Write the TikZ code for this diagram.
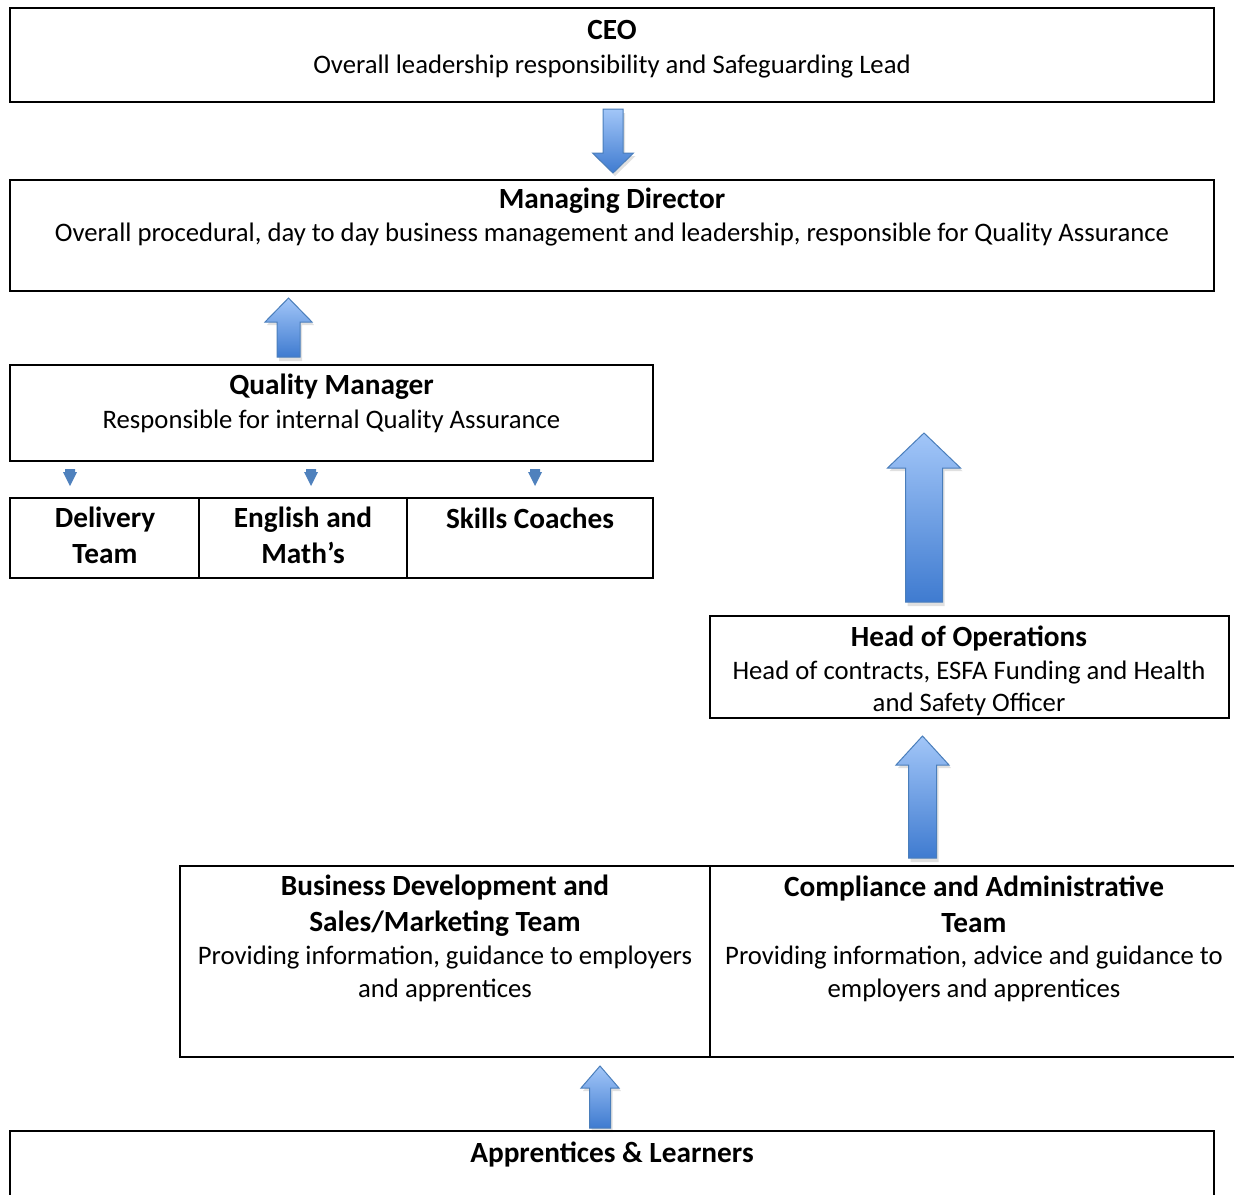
\documentclass[tikz,border=0pt]{standalone}
\usepackage{fontspec}
\setmainfont{Carlito}
\definecolor{arrtop}{HTML}{A2C6F8}
\definecolor{arrbot}{HTML}{3F7BD0}
\definecolor{arrline}{HTML}{4A7EBB}
\definecolor{tri}{HTML}{4F81BD}
\newcommand{\blockarr}[7]{% name, xc, ytip, yend, yheadbase, shafthalf, headhalf
  \fill[black,opacity=0.12] (#2+2,#3+3) -- (#2+#7+2,#5+3) -- (#2+#6+2,#5+3) -- (#2+#6+2,#4+4) -- (#2-#6+2,#4+4) -- (#2-#6+2,#5+3) -- (#2-#7+2,#5+3) -- cycle;
  \path[blockarrow] (#2,#3) coordinate (#1tip) -- (#2+#7,#5) -- (#2+#6,#5) -- (#2+#6,#4) -- (#2-#6,#4) -- (#2-#6,#5) -- (#2-#7,#5) -- cycle;
}
\newcommand{\smalltri}[2]{% name, xc
  \fill[tri] (#2-5,469) coordinate (#1) -- (#2+5,469) -- (#2+5,472) -- (#2+7,472) -- (#2,486) -- (#2-7,472) -- (#2-5,472) -- cycle;
}
\begin{document}
\begin{tikzpicture}[x=1pt,y=-1pt,
  box/.style={draw=black,line width=1.6pt,rectangle,inner sep=0pt},
  ttl/.style={font=\fontsize{29.3}{36}\selectfont\bfseries,align=center,inner sep=0pt},
  bdy/.style={font=\fontsize{26.7}{32.5}\selectfont,align=center,inner sep=0pt},
  blockarrow/.style={draw=arrline,line width=1pt,top color=arrtop,bottom color=arrbot}]
\useasboundingbox (0,0) rectangle (1234,1194);
% boxes
\node[box,minimum width=1204pt,minimum height=94pt] (ceo) at (612,55) {};
\node[box,minimum width=1204pt,minimum height=111pt] (md) at (612,235.5) {};
\node[box,minimum width=643pt,minimum height=96pt] (qm) at (331.5,413) {};
\node[box,minimum width=189pt,minimum height=80pt] (del) at (104.5,538) {};
\node[box,minimum width=208pt,minimum height=80pt] (eng) at (303,538) {};
\node[box,minimum width=246pt,minimum height=80pt] (sk) at (530,538) {};
\node[box,minimum width=519pt,minimum height=102pt] (hoo) at (969.5,667) {};
\node[box,minimum width=530pt,minimum height=191pt] (bd) at (445,961.5) {};
\draw[line width=1.6pt] (1240,866) -- (710,866) -- (710,1057) -- (1240,1057);
\coordinate (ca) at (974,961.5);
\draw[line width=1.6pt] (10,1200) -- (10,1131) -- (1214,1131) -- (1214,1200);
\coordinate (app) at (612,1165);
% texts
\node[ttl] (ceot) at (612,30) {CEO};
\node[bdy] (ceob) at (612,67) {Overall leadership responsibility and Safeguarding Lead};
\node[ttl] (mdt) at (612,201) {Managing Director};
\node[bdy] (mdb) at (612,235) {Overall procedural, day to day business management and leadership, responsible for Quality Assurance};
\node[ttl] (qmt) at (331.5,387) {Quality Manager};
\node[bdy] (qmb) at (331.5,421) {Responsible for internal Quality Assurance};
\node[ttl] (delt) at (105,535) {Delivery\\Team};
\node[ttl] (engt) at (303,535) {English and\\Math’s};
\node[ttl] (skt) at (530,518) {Skills Coaches};
\node[ttl] (hoot) at (969,638) {Head of Operations};
\node[bdy] (hoob) at (969,688.5) {Head of contracts, ESFA Funding and Health\\and Safety Officer};
\node[ttl] (bdt) at (445,906) {Business Development and\\Sales/Marketing Team};
\node[bdy] (bdb) at (445,974) {Providing information, guidance to employers\\and apprentices};
\node[ttl] (cat) at (974,904) {Compliance and Administrative\\Team};
\node[bdy] (cab) at (974,974) {Providing information, advice and guidance to\\employers and apprentices};
\node[ttl] (appt) at (612,1154) {Apprentices \& Learners};
% block arrows
\blockarr{a1}{613}{173}{109}{153}{10}{20.5}
\blockarr{a2}{288.5}{298}{357}{322}{11.5}{23.5}
\blockarr{a3}{924}{433}{602}{468}{18.5}{36.5}
\blockarr{a4}{922.5}{736}{858}{765}{14}{26.5}
\blockarr{a5}{600}{1066}{1128}{1088}{10.5}{19}
% small arrows
\smalltri{t1}{70}
\smalltri{t2}{311}
\smalltri{t3}{535}
\end{tikzpicture}
\end{document}
